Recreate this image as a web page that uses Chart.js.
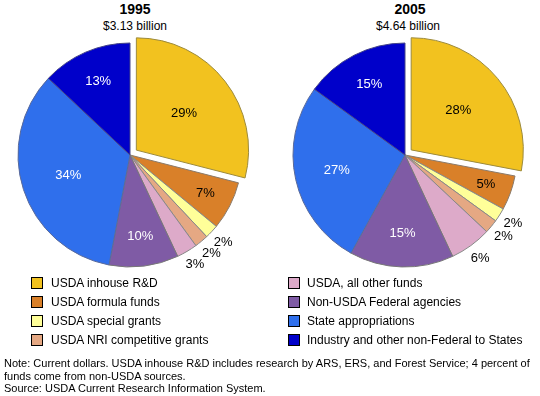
<!DOCTYPE html>
<html>
<head>
<meta charset="utf-8">
<script src="https://cdn.jsdelivr.net/npm/chart.js@4"></script>
<style>
  html, body { margin: 0; padding: 0; background: #fff; }
  body { width: 540px; height: 396px; position: relative; overflow: hidden;
         font-family: "Liberation Sans", Arial, sans-serif; color: #000; }
  .abs { position: absolute; }
  .title { font-weight: bold; font-size: 14px; text-align: center; width: 200px; }
  .sub { font-size: 12px; text-align: center; width: 200px; }
  .lbox { position: absolute; width: 10px; height: 10px; border: 1px solid #000; }
  .ltxt { position: absolute; font-size: 12px; line-height: 14px; white-space: nowrap; }
  .note { position: absolute; left: 4px; top: 357px; font-size: 11px; line-height: 12.5px; width: 536px; }
</style>
</head>
<body>
<div class="abs title" style="left:35px; top:1px;">1995</div>
<div class="abs sub" style="left:35px; top:19px;">$3.13 billion</div>
<div class="abs title" style="left:310px; top:1px;">2005</div>
<div class="abs sub" style="left:308px; top:19px;">$4.64 billion</div>
<canvas id="c1" class="abs" style="left:0; top:0;" width="270" height="290"></canvas>
<canvas id="c2" class="abs" style="left:270px; top:0;" width="270" height="290"></canvas>
<div id="legend"></div>
<div class="note">Note: Current dollars. USDA inhouse R&amp;D includes research by ARS, ERS, and Forest Service; 4 percent of<br>funds come from non-USDA sources.<br>Source: USDA Current Research Information System.</div>
<script>
// ---- data ----
const categories = [
  "USDA inhouse R&D",
  "USDA formula funds",
  "USDA special grants",
  "USDA NRI competitive grants",
  "USDA, all other funds",
  "Non-USDA Federal agencies",
  "State appropriations",
  "Industry and other non-Federal to States"
];
const values1995 = [29, 7, 2, 2, 3, 10, 34, 13];
const values2005 = [28, 5, 2, 2, 6, 15, 27, 15];
const years = ["1995", "2005"];
const totals = ["$3.13 billion", "$4.64 billion"];

// ---- style ----
const colors = ["#F2C21F", "#D98029", "#FFFF99", "#E5A883", "#DDAAC9", "#7F5BA5", "#2F6FEC", "#0000CA"];
const borderColors = ["#9C8A3C", "#8a7a6a", "#888888", "#888888", "#888888", "#777777", "#5a6a9a", "#444488"];
const labelColors = ["#000", "#000", "#000", "#000", "#000", "#fff", "#fff", "#fff"];
const outsideIdx = [2, 3, 4];

const labelPlugin = {
  id: 'pieLabels',
  afterDatasetsDraw(chart) {
    const ctx = chart.ctx;
    const meta = chart.getDatasetMeta(0);
    const total = chart.data.datasets[0].data.reduce((a, b) => a + b, 0);
    ctx.save();
    ctx.font = '13px "Liberation Sans", Arial, sans-serif';
    ctx.textAlign = 'center';
    ctx.textBaseline = 'middle';
    meta.data.forEach((arc, i) => {
      const p = arc.getProps(['x', 'y', 'startAngle', 'endAngle', 'outerRadius']);
      const mid = (p.startAngle + p.endAngle) / 2;
      const v = chart.data.datasets[0].data[i];
      const f = v / total;
      let r;
      if (outsideIdx.includes(i)) r = p.outerRadius * 1.14;
      else r = p.outerRadius * (0.8 - 0.65 * f);
      const x = p.x + Math.cos(mid) * r;
      const y = p.y + Math.sin(mid) * r;
      ctx.fillStyle = outsideIdx.includes(i) ? '#000' : labelColors[i];
      ctx.fillText(v + '%', x, y);
    });
    ctx.restore();
  }
};

function makePie(id, values, padding) {
  return new Chart(document.getElementById(id), {
    type: 'pie',
    data: {
      labels: categories,
      datasets: [{
        data: values,
        backgroundColor: colors,
        borderColor: borderColors,
        borderWidth: 1,
        offset: [32, 0, 0, 0, 0, 0, 0, 0]
      }]
    },
    options: {
      responsive: false,
      animation: false,
      events: [],
      radius: 112,
      layout: { padding: padding },
      plugins: { legend: { display: false }, tooltip: { enabled: false }, title: { display: false } }
    },
    plugins: [labelPlugin]
  });
}

makePie('c1', values1995, { left: 0, right: 10, top: 20, bottom: 0 });
makePie('c2', values2005, { left: 0, right: 0, top: 20, bottom: 0 });

// ---- HTML legend built from categories ----
const legend = document.getElementById('legend');
categories.forEach((name, i) => {
  const col = i < 4 ? 0 : 1;
  const row = i % 4;
  const top = 277 + row * 19;
  const box = document.createElement('div');
  box.className = 'lbox';
  box.style.left = (col ? 288 : 31) + 'px';
  box.style.top = top + 'px';
  box.style.background = colors[i];
  legend.appendChild(box);
  const t = document.createElement('div');
  t.className = 'ltxt';
  t.style.left = (col ? 307 : 51) + 'px';
  t.style.top = (top - 1) + 'px';
  t.textContent = name;
  legend.appendChild(t);
});
</script>
</body>
</html>
